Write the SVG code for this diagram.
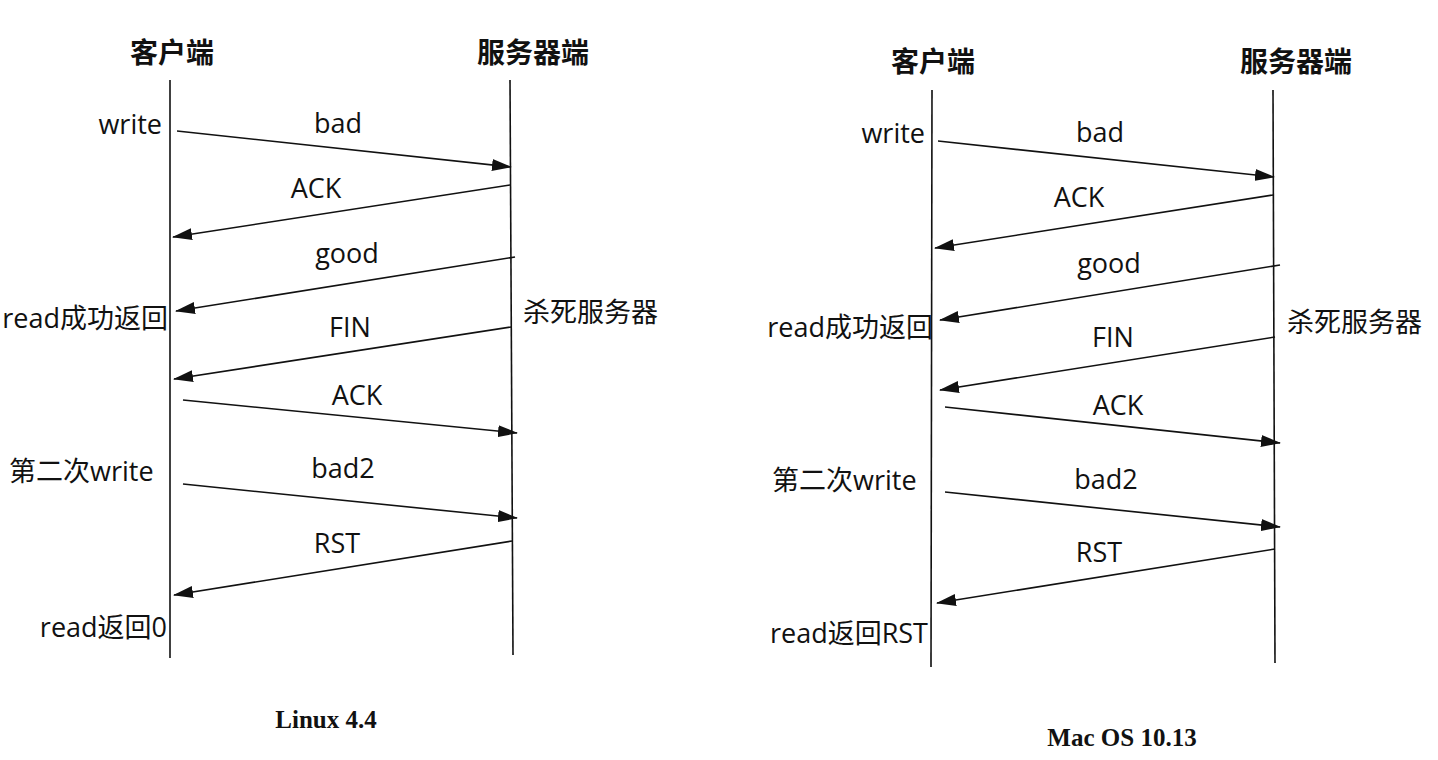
<svg xmlns="http://www.w3.org/2000/svg" width="1438" height="760" viewBox="0 0 1438 760">
<style>
.t{font-family:"Open Sans","Noto Sans CJK SC",sans-serif;font-size:27px;fill:#111}
.h{font-family:"Noto Sans CJK SC",sans-serif;font-size:28px;font-weight:bold;fill:#111}
.c{font-family:"Liberation Serif","Noto Sans CJK SC",serif;font-size:25px;font-weight:bold;fill:#111}
.m{text-anchor:middle}
.e{text-anchor:end}
.life{stroke:#111;stroke-width:1.6;fill:none}
.arr{stroke:#111;stroke-width:1.6;fill:none;marker-end:url(#ah)}
</style>
<defs>
<marker id="ah" markerUnits="userSpaceOnUse" markerWidth="20" markerHeight="12" refX="19" refY="6" orient="auto">
<path d="M0,0 L20,6 L0,12 z" fill="#111"/>
</marker>
</defs>
<rect width="1438" height="760" fill="#fff"/>

<g id="linux">
<g id="l-client">
<text class="h m" x="172" y="63">客户端</text>
<line class="life" x1="170" y1="80" x2="170" y2="658"/>
</g>
<g id="l-server">
<text class="h m" x="533" y="63">服务器端</text>
<line class="life" x1="510" y1="80" x2="513" y2="655"/>
</g>
<g id="l-labels">
<text class="t e" x="162" y="134">write</text>
<text class="t e" x="168" y="328">read成功返回</text>
<text class="t" x="523" y="322">杀死服务器</text>
<text class="t" x="9" y="481">第二次write</text>
<text class="t e" x="167" y="637">read返回0</text>
<text class="c m" x="326" y="728">Linux 4.4</text>
</g>
<g id="l-connectors">
<line class="arr" x1="177" y1="131" x2="511" y2="167"/>
<text class="t m" x="338" y="133">bad</text>
<line class="arr" x1="510" y1="185" x2="173" y2="237"/>
<text class="t m" x="316" y="198">ACK</text>
<line class="arr" x1="515" y1="257" x2="176" y2="311"/>
<text class="t m" x="347" y="263">good</text>
<line class="arr" x1="511" y1="327" x2="174" y2="379"/>
<text class="t m" x="350" y="337">FIN</text>
<line class="arr" x1="183" y1="400" x2="517" y2="433"/>
<text class="t m" x="357" y="405">ACK</text>
<line class="arr" x1="183" y1="484" x2="517" y2="518"/>
<text class="t m" x="343" y="478">bad2</text>
<line class="arr" x1="512" y1="541" x2="174" y2="595"/>
<text class="t m" x="337" y="553">RST</text>
</g>
</g>

<g id="mac">
<g id="m-client">
<text class="h m" x="933" y="72">客户端</text>
<line class="life" x1="932" y1="90" x2="931" y2="667"/>
</g>
<g id="m-server">
<text class="h m" x="1296" y="72">服务器端</text>
<line class="life" x1="1273" y1="90" x2="1275" y2="663"/>
</g>
<g id="m-labels">
<text class="t e" x="925" y="143">write</text>
<text class="t e" x="933" y="337">read成功返回</text>
<text class="t" x="1287" y="332">杀死服务器</text>
<text class="t" x="772" y="490">第二次write</text>
<text class="t e" x="928" y="643">read返回RST</text>
<text class="c m" x="1122" y="746">Mac OS 10.13</text>
</g>
<g id="m-connectors">
<line class="arr" x1="938" y1="141" x2="1274" y2="177"/>
<text class="t m" x="1100" y="142">bad</text>
<line class="arr" x1="1273" y1="195" x2="935" y2="248"/>
<text class="t m" x="1079" y="207">ACK</text>
<line class="arr" x1="1280" y1="265" x2="940" y2="320"/>
<text class="t m" x="1109" y="273">good</text>
<line class="arr" x1="1275" y1="337" x2="940" y2="390"/>
<text class="t m" x="1113" y="347">FIN</text>
<line class="arr" x1="945" y1="407" x2="1280" y2="443"/>
<text class="t m" x="1118" y="415">ACK</text>
<line class="arr" x1="945" y1="492" x2="1280" y2="527"/>
<text class="t m" x="1106" y="489">bad2</text>
<line class="arr" x1="1275" y1="549" x2="937" y2="603"/>
<text class="t m" x="1099" y="562">RST</text>
</g>
</g>
</svg>
